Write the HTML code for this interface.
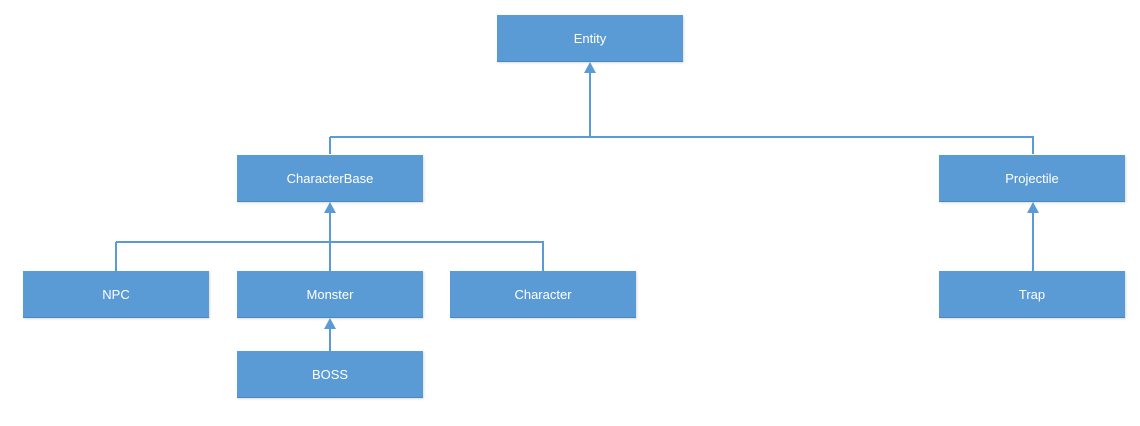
<!DOCTYPE html>
<html><head><style>
body{margin:0;width:1140px;height:426px;background:#fff;position:relative;overflow:hidden;font-family:"Liberation Sans",sans-serif}
.b{position:absolute;width:186px;height:46px;background:#5b9bd5;border-bottom:1px solid #4a88c2;color:#fff;font-size:13px;display:flex;align-items:center;justify-content:center;box-shadow:1px 1px 2px rgba(0,0,0,.15)}
svg{position:absolute;left:0;top:0}
</style></head><body>
<svg width="1140" height="426">
<g stroke="#5b9bd5" stroke-width="2" fill="none">
<path d="M590 70V137M330 137H1033V154M330 137V154"/>
<path d="M330 210V271M116 242H543V271M116 242V271"/>
<path d="M330 326V351"/>
<path d="M1033 210V271"/>
</g>
<g fill="#5b9bd5">
<path d="M590 62l-6 11h12z"/>
<path d="M330 202l-6 11h12z"/>
<path d="M330 318l-6 11h12z"/>
<path d="M1033 202l-6 11h12z"/>
</g>
</svg>
<div class="b" style="left:497px;top:15px">Entity</div>
<div class="b" style="left:237px;top:155px">CharacterBase</div>
<div class="b" style="left:939px;top:155px">Projectile</div>
<div class="b" style="left:23px;top:271px">NPC</div>
<div class="b" style="left:237px;top:271px">Monster</div>
<div class="b" style="left:450px;top:271px">Character</div>
<div class="b" style="left:939px;top:271px">Trap</div>
<div class="b" style="left:237px;top:351px">BOSS</div>
</body></html>
